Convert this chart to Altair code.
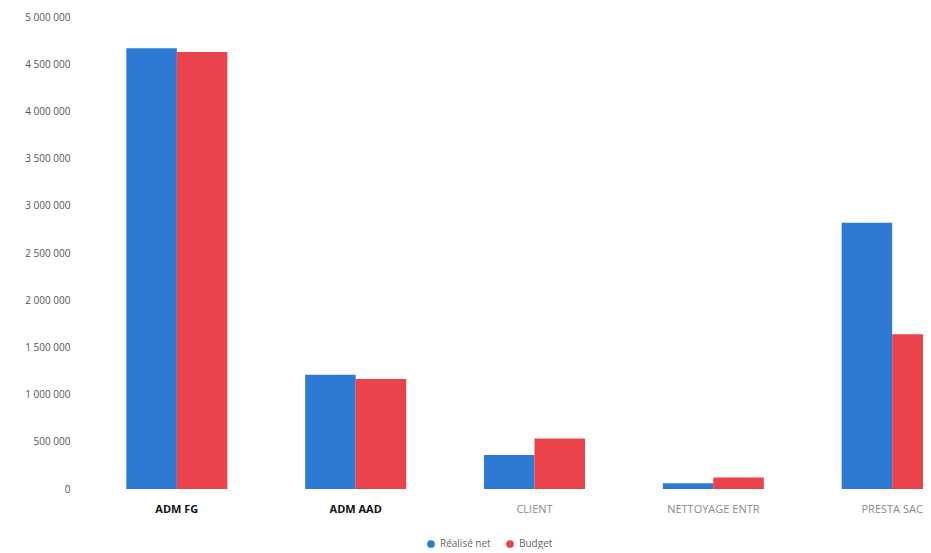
import altair as alt
import pandas as pd

categories = ["ADM FG", "ADM AAD", "CLIENT", "NETTOYAGE ENTR", "PRESTA SAC"]
realise = [4670000, 1210000, 360000, 62000, 2820000]
budget = [4630000, 1165000, 535000, 122000, 1640000]
series = ["Réalisé net", "Budget"]
colors = ["#2d79d4", "#ea434b"]
y_ticks = [0, 500000, 1000000, 1500000, 2000000, 2500000, 3000000, 3500000, 4000000, 4500000, 5000000]

rows = []
for c, r, b in zip(categories, realise, budget):
    rows.append({"cat": c, "serie": series[0], "val": r})
    rows.append({"cat": c, "serie": series[1], "val": b})
df = pd.DataFrame(rows)

dark = "datum.value == 'ADM FG' || datum.value == 'ADM AAD'"

chart = alt.Chart(df).mark_bar(clip=True).encode(
    x=alt.X(
        "cat:N",
        sort=categories,
        title=None,
        scale=alt.Scale(range=[0, 895], paddingInner=0.435, paddingOuter=0.22),
        axis=alt.Axis(
            labelAngle=0,
            domain=False,
            ticks=False,
            labelPadding=14,
            labelFontSize=11,
            labelFont="Open Sans",
            labelColor=alt.condition(dark, alt.value("#111111"), alt.value("#8a8a8a")),
            labelFontWeight=alt.condition(dark, alt.value("bold"), alt.value("normal")),
        ),
    ),
    xOffset=alt.XOffset("serie:N", sort=series, scale=alt.Scale(paddingInner=0, paddingOuter=0)),
    y=alt.Y(
        "val:Q",
        title=None,
        scale=alt.Scale(domain=[0, 5000000], nice=False),
        axis=alt.Axis(
            values=y_ticks,
            format=",d",
            domain=False,
            ticks=False,
            grid=False,
            labelPadding=17,
            labelFontSize=10,
            labelFont="Open Sans",
            labelColor="#555555",
        ),
    ),
    color=alt.Color(
        "serie:N",
        sort=series,
        scale=alt.Scale(domain=series, range=colors),
        legend=alt.Legend(
            title=None,
            orient="none",
            legendX=339,
            legendY=522,
            direction="horizontal",
            symbolType="circle",
            symbolSize=60,
            labelFontSize=10,
            labelFont="Open Sans",
            labelColor="#666666",
            columnPadding=14,
        ),
    ),
).properties(
    width=836,
    height=472,
    autosize=alt.AutoSizeParams(type="none"),
    padding={"left": 79, "top": 9, "right": 0, "bottom": 60},
).configure(
    view={"stroke": None},
    locale={"number": {"decimal": ",", "thousands": "\u00a0", "grouping": [3], "currency": ["", " €"]}},
)

chart.save("out.html", embed_options={"renderer": "svg", "actions": False})
